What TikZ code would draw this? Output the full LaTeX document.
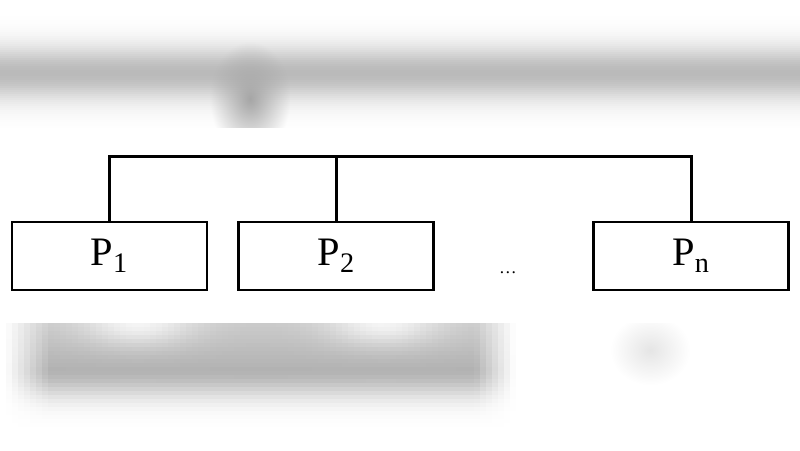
\documentclass[tikz,border=0pt]{standalone}
\usepackage{fontspec}
\setmainfont{Liberation Serif}
\usepackage{tikz}
\usetikzlibrary{positioning, fadings}
\tikzfading[name=soft out, inner color=transparent!0, outer color=transparent!100]
\tikzset{
        proc/.style={draw, line width=1.6pt, minimum width=3.9cm, minimum height=1.36cm, inner sep=0pt, font=\fontsize{23}{25}\selectfont}, % one box per processor
        bus/.style={line width=1.6pt}, % the shared line on top
        haze/.style={path fading=soft out}, % blurred spots round the strip
    }
\begin{document}
\begin{tikzpicture}
    \useasboundingbox (0,0) rectangle (16,-9);
    % blurred border of the scan, in pixel units
    \begin{scope}[x=0.02cm, y=-0.02cm]
      \foreach \r in {16,18,...,126} {
        \pgfmathsetmacro\k{27*exp(-((\r-72)/27)^2)}
        \fill[black!\k] (0,\r) rectangle (800,\r+2.3);
      }
      \fill[black!35, haze] (210,42) rectangle (290,155);
      \foreach \c in {0,6,...,530} {
        \foreach \r in {323,327,...,423} {
          \pgfmathsetmacro\fx{min(1,max(0,(\c-2)/45))*min(1,max(0,(512-\c)/40))}
          \pgfmathsetmacro\fy{(\r<367) ? (0.7+0.3*(\r-323)/44) : exp(-((\r-367)/28)^2)}
          \pgfmathsetmacro\sp{0.55*exp(-((\c-135)/55)^2-((\r-323)/22)^2)+0.55*exp(-((\c-380)/55)^2-((\r-323)/22)^2)}
          \pgfmathsetmacro\k{max(0,30*\fx*(\fy-\sp))}
          \fill[black!\k] (\c,\r) rectangle (\c+6.3,\r+4.3);
        }
      }
      \fill[black!10, haze] (610,315) rectangle (690,385);
      \fill[white] (0,128) rectangle (800,323);
    \end{scope}
    % processors and bus
    \node[proc] (p1) at (2.19,-5.12) {P\textsubscript{1}};
    \node[proc, right=0.58cm of p1] (p2) {P\textsubscript{2}};
    \node[proc, right=3.14cm of p2] (pn) {P\textsubscript{n}};
    \node (dots) at (10.16,-5.45) {\ldots};
    \draw[bus] (p1.north) -- ++(0,1.28) -| (pn.north);
    \draw[bus] (p2.north) -- ++(0,1.28);
\end{tikzpicture}
\end{document}
